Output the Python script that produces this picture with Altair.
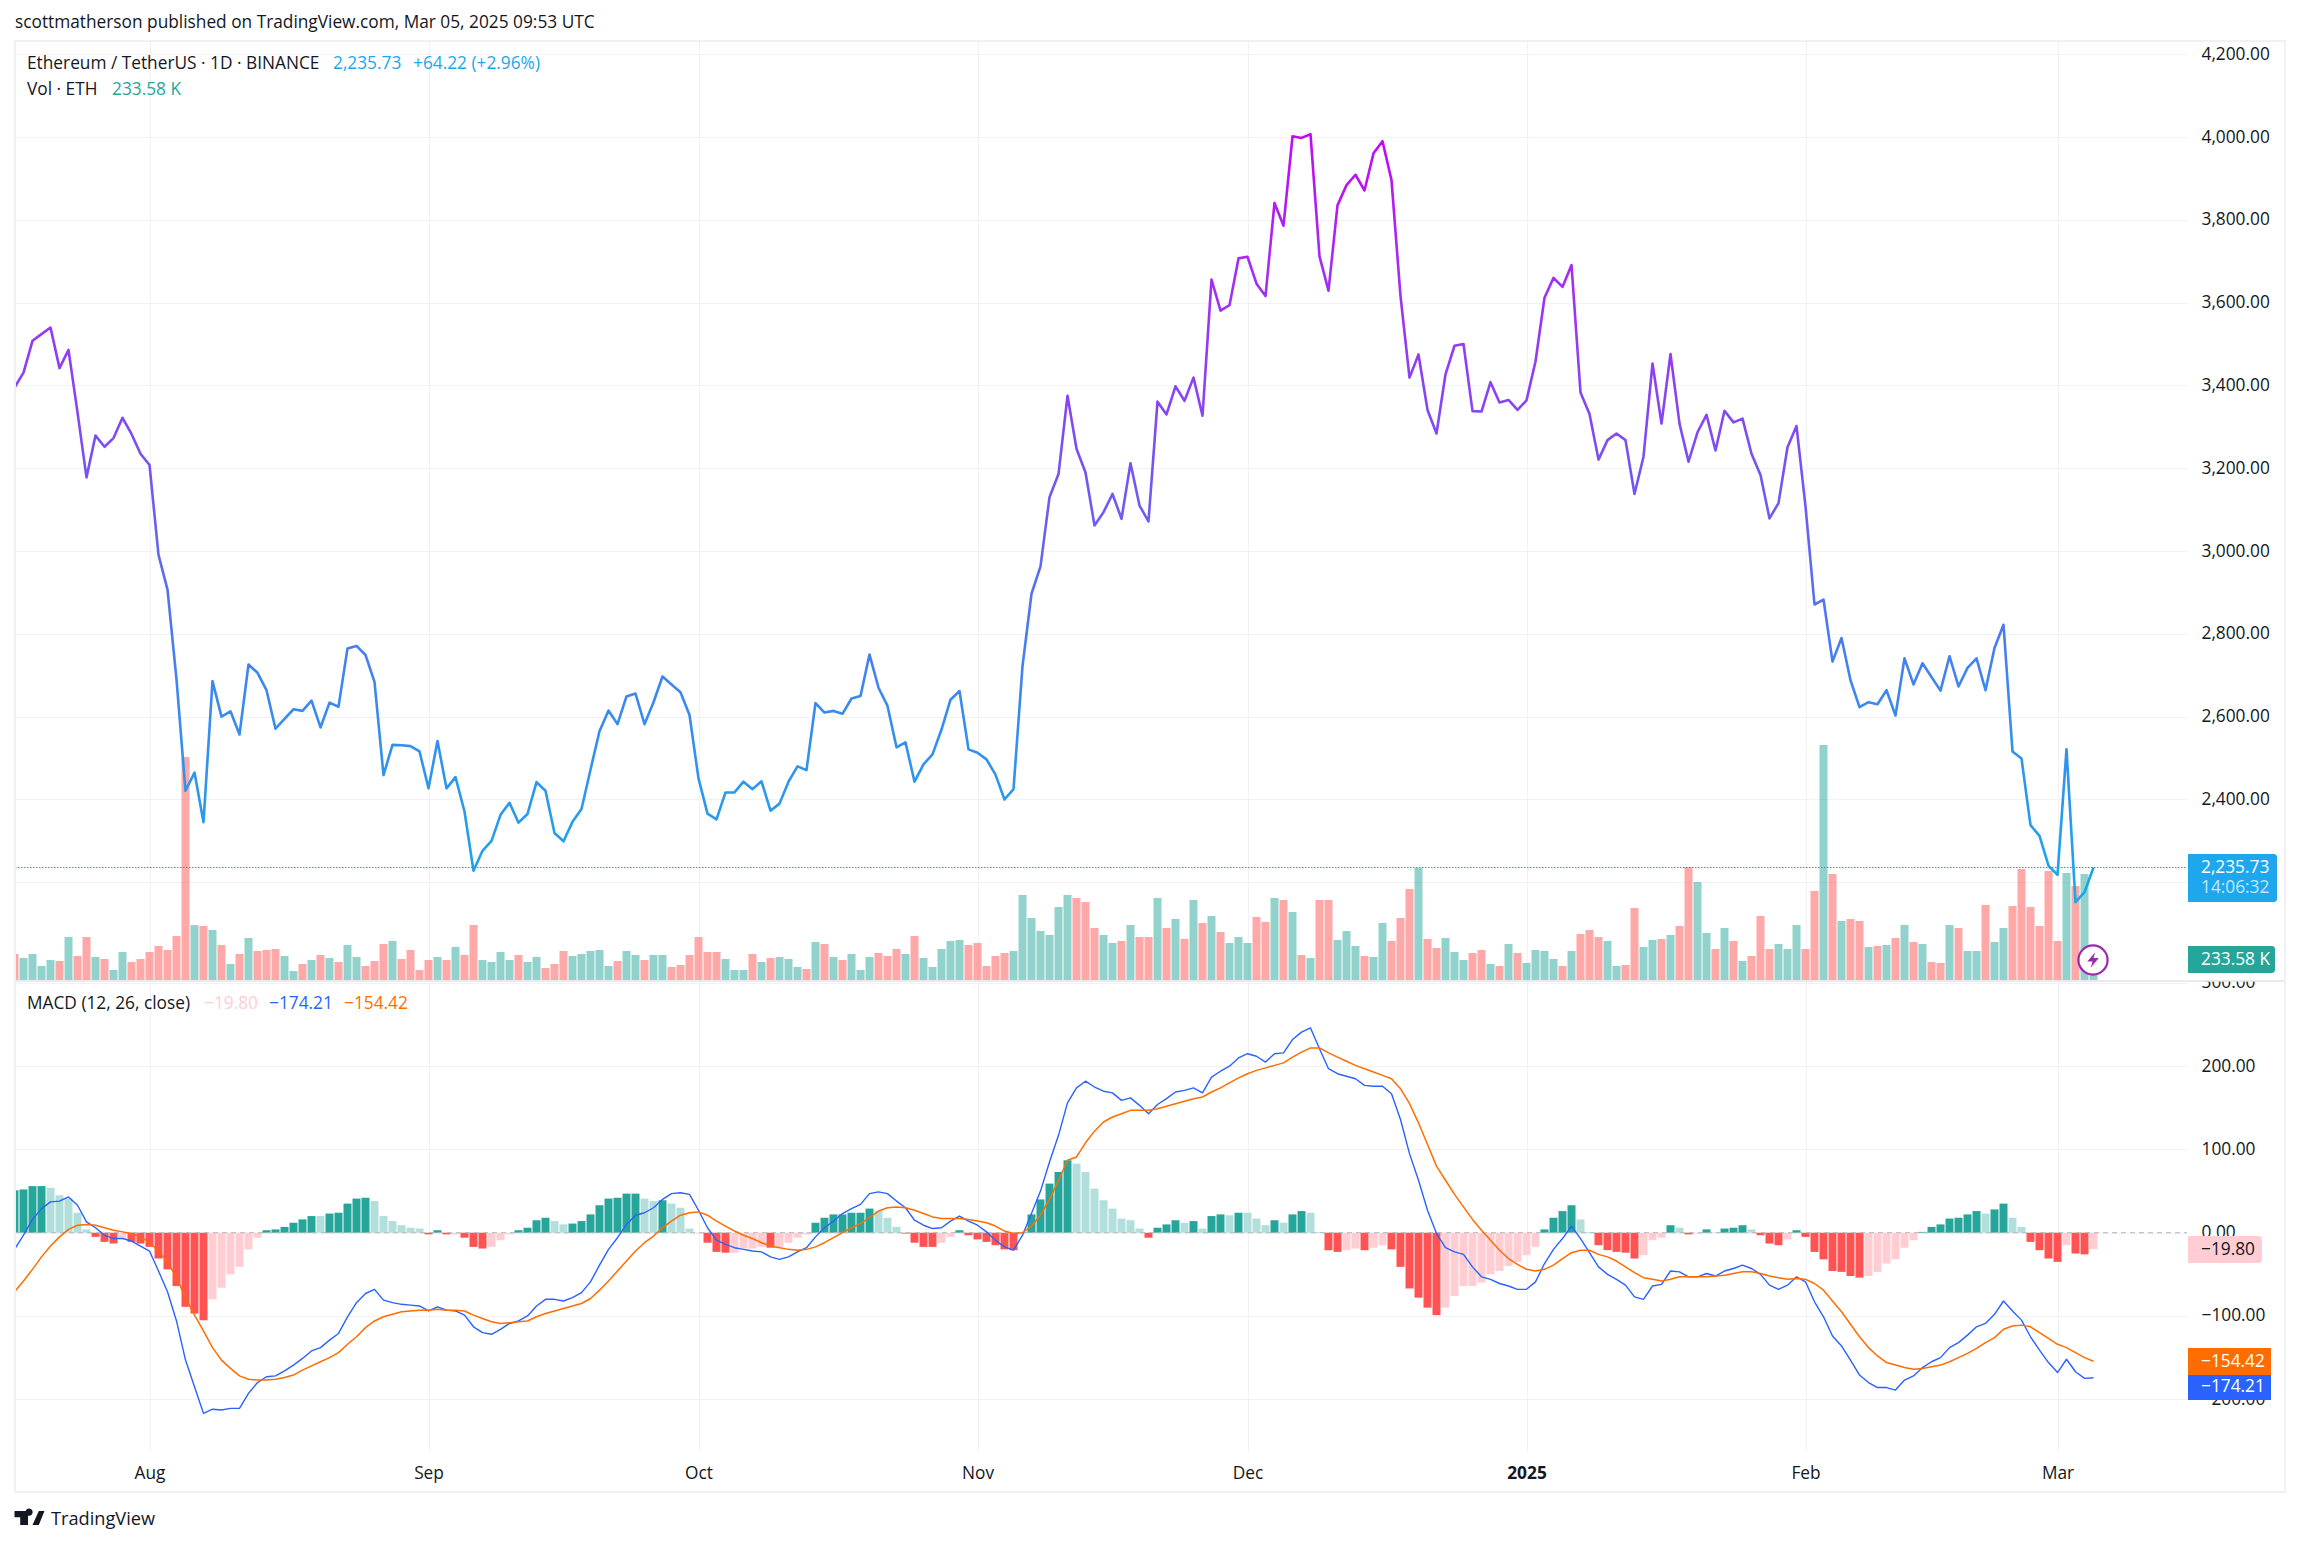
import altair as alt
import pandas as pd

PRICE = [3395,3431,3508,3524,3540,3442,3486,3335,3178,3279,
3252,3273,3322,3283,3235,3208,2991,2907,2690,2421,
2465,2345,2686,2600,2613,2557,2726,2706,2664,2571,
2595,2618,2614,2639,2574,2634,2624,2765,2771,2749,
2684,2459,2532,2531,2529,2516,2427,2541,2427,2454,
2371,2228,2276,2300,2363,2392,2344,2365,2442,2421,
2319,2299,2346,2377,2472,2565,2615,2582,2649,2656,
2582,2635,2697,2678,2659,2604,2451,2366,2352,2417,
2417,2443,2425,2444,2373,2390,2443,2480,2471,2633,
2610,2614,2607,2644,2650,2750,2670,2626,2526,2538,
2443,2485,2509,2569,2641,2662,2521,2513,2497,2460,
2400,2425,2722,2897,2963,3130,3186,3375,3247,3190,
3062,3094,3138,3078,3212,3110,3072,3361,3330,3398,
3363,3419,3327,3656,3581,3594,3707,3711,3646,3616,
3841,3786,4002,3998,4007,3712,3629,3835,3884,3909,
3871,3961,3990,3896,3616,3419,3475,3341,3284,3427,
3496,3500,3338,3337,3408,3359,3365,3341,3364,3458,
3612,3660,3638,3691,3383,3331,3221,3268,3284,3268,
3138,3228,3453,3308,3476,3308,3216,3287,3329,3243,
3339,3311,3320,3235,3184,3079,3116,3251,3302,3108,
2871,2883,2733,2790,2688,2623,2635,2630,2664,2603,
2741,2678,2729,2696,2663,2746,2673,2718,2741,2664,
2766,2822,2516,2499,2338,2312,2240,2218,2521,2152,
2176,2235.73]

VOLUME_K = [338,286,338,182,260,247,559,312,559,299,
273,130,364,234,273,364,442,390,572,2899,
715,702,650,455,208,338,546,377,390,403,
312,117,208,260,325,286,234,455,299,182,
247,468,507,273,390,130,260,299,260,429,
325,715,260,234,364,260,325,234,299,156,
208,377,312,338,377,390,182,247,377,325,
260,325,325,169,195,325,559,364,364,273,
130,130,338,234,286,299,273,169,143,494,
468,299,260,338,130,299,351,312,403,338,
572,286,169,403,507,520,455,481,182,312,
351,377,1105,806,637,585,949,1105,1066,1014,
676,585,481,507,715,559,559,1066,676,793,
533,1040,741,832,624,481,559,481,819,754,
1066,1040,884,325,286,1040,1040,520,637,442,
312,299,741,507,806,1183,1456,533,416,546,
364,260,351,390,208,182,468,351,221,390,
377,273,182,377,598,650,559,507,182,195,
936,429,520,533,585,702,1469,1274,611,403,
676,507,247,312,832,403,468,403,715,403,
1157,3055,1378,767,793,767,429,442,455,546,
715,494,468,234,221,715,676,377,377,975,
494,676,962,1443,949,702,1417,507,1391,1222,
1378,233.58]

VOLUME_DIR = list(
"RGGGGRGRRG" "RGGRRRRRRR" "GRGRGRGRRR" "GGRGRGRGGR" "RRGRRRRGRG"
"RRGGGGRGGR" "RRGGGGGRGG" "RGGRRRRRRG" "GGRGRGGGRG" "RGRGGGRRRG"
"RGGGGGRRRR" "RGGGGGGGRR" "RGGRGRRGRG" "RGRGRGGGRR" "GRGRGRRGGG"
"RGGRRRGRRG" "GGRRGRGRGG" "GGRGRRRGGR" "RGGRGRRGGR" "GRGRRRGGGR"
"RGRGRRGRGR" "GRGRRGRGGR" "GGRRRRRRGR" "GG")

MACD = [-20,-3,16,29,37,38,43,33,13,6,
-3,-7,-7,-10,-16,-22,-46,-71,-106,-153,
-185,-217,-212,-213,-211,-211,-193,-180,-173,-172,
-166,-159,-151,-142,-138,-129,-121,-101,-84,-73,
-68,-81,-84,-86,-87,-88,-94,-89,-93,-94,
-99,-113,-120,-122,-116,-109,-106,-100,-88,-80,
-80,-82,-78,-72,-59,-39,-20,-6,10,21,
24,30,40,47,48,46,27,6,-9,-14,
-18,-20,-22,-23,-29,-32,-29,-23,-18,-5,
6,14,23,29,34,47,49,47,38,30,
15,9,5,6,14,20,14,9,1,-9,
-17,-21,-3,23,50,85,117,156,174,182,
175,170,168,159,162,153,143,154,161,169,
171,174,168,187,194,200,210,215,212,205,
215,216,232,241,246,221,197,191,188,185,
177,176,176,167,136,95,63,27,-1,-18,
-23,-26,-41,-53,-56,-61,-64,-68,-68,-59,
-37,-20,-7,8,-7,-24,-41,-50,-56,-63,
-77,-80,-64,-62,-46,-47,-53,-53,-49,-52,
-46,-43,-39,-43,-50,-63,-68,-63,-53,-59,
-83,-101,-124,-136,-153,-171,-180,-186,-186,-189,
-177,-172,-162,-155,-150,-138,-132,-123,-113,-109,
-98,-82,-94,-105,-125,-141,-156,-168,-152,-167,
-175,-174.21]

SIGNAL = [-71,-58,-44,-29,-16,-5,4,9,10,9,
6,3,1,-1,-5,-12,-22,-35,-54,-78,
-99,-118,-138,-153,-163,-172,-176,-177,-177,-176,
-174,-171,-165,-160,-155,-150,-144,-134,-125,-114,
-106,-101,-98,-95,-94,-93,-93,-92,-93,-93,
-94,-99,-103,-107,-109,-108,-107,-106,-101,-97,
-94,-91,-88,-85,-79,-69,-58,-46,-34,-22,
-12,-4,6,14,21,24,25,21,14,8,
2,-3,-7,-12,-16,-18,-20,-21,-20,-17,
-12,-6,0,6,11,18,26,30,31,30,
27,23,19,17,17,17,16,14,12,8,
2,-1,0,8,21,40,63,87,91,108,
122,133,139,143,147,147,147,149,152,155,
158,161,163,169,174,180,186,191,195,198,
201,204,211,217,222,222,216,211,206,201,
197,193,189,185,173,155,132,106,80,63,
46,31,16,3,-9,-21,-31,-38,-44,-46,
-44,-39,-31,-24,-21,-21,-26,-29,-34,-41,
-48,-54,-56,-58,-56,-53,-53,-53,-53,-52,
-51,-49,-47,-47,-49,-52,-54,-56,-55,-56,
-61,-69,-82,-95,-110,-125,-138,-148,-156,-159,
-162,-164,-163,-161,-159,-155,-150,-145,-139,-132,
-126,-116,-112,-111,-113,-120,-127,-134,-138,-144,
-150,-154.42]

HIST = [51,52,56,56,54,45,41,24,4,-5,
-11,-13,-7,-11,-13,-17,-31,-44,-64,-89,
-97,-105,-80,-66,-50,-41,-20,-6,3,4,
7,12,16,20,20,23,24,35,41,42,
38,20,14,9,6,5,-2,3,-2,-2,
-6,-17,-19,-17,-9,-2,3,6,15,18,
14,10,11,14,22,33,41,42,47,47,
41,38,39,35,30,5,-1,-12,-23,-24,
-24,-19,-19,-17,-18,-17,-12,-6,-2,12,
18,22,22,24,24,29,26,18,7,-1,
-12,-17,-17,-12,-5,3,-3,-8,-11,-15,
-20,-21,0.5,22,40,59,73,87,83,73,
53,39,29,17,15,5,-6,6,10,15,
12,14,5,20,22,21,24,24,17,9,
15,12,22,26,24,1,-21,-23,-21,-19,
-21,-18,-15,-20,-41,-67,-78,-90,-99,-90,
-76,-64,-64,-60,-50,-46,-40,-35,-27,-17,
4,18,26,33,16,1,-15,-21,-23,-24,
-31,-27,-9,-6,9,6,-2,-1,4,0.5,
5,6,9,4,-3,-13,-15,-8,3,-5,
-23,-32,-46,-47,-52,-54,-52,-47,-37,-32,
-18,-9,1,7,10,17,18,22,26,23,
28,35,18,7,-11,-21,-31,-35,-15,-25,
-26,-19.80]

HIST_KIND = list(
"DDDDLLLLLR" "RRPRRRRRRR" "RRPPPPPPDD" "DDDDLDDDDD" "LLLLLLRDRP"
"RRRPPPDDDD" "LLDDDDDDDD" "LLDLLLPRRR" "PPPPRPPPPD" "DDDDDDLLLR"
"RRRPPDRRRR" "RRDDDDDDLL" "LLLLLLRDDD" "LDLDDLDLLL" "DLDDLLRRPP"
"RPPRRRRRRP" "PPPPPPPPPP" "DDDDLLRRRR" "RPPPDLRPDL" "DDDLRRRPDR"
"RRRRRRPPPP" "PPDDDDDDDL" "DDLLRRRRPR" "RP")

DATES = pd.date_range("2024-07-17", periods=232).strftime("%Y-%m-%d").tolist()
MONTH_TICKS = ["2024-08-01","2024-09-01","2024-10-01","2024-11-01","2024-12-01","2025-01-01","2025-02-01","2025-03-01"]
PRICE_TICKS = [2200,2400,2600,2800,3000,3200,3400,3600,3800,4000,4200]
MACD_TICKS = [-200,-100,0,100,200,300]

FONT = "Open Sans"
FS = 17.3
INK = "#131722"
df = pd.DataFrame(dict(date=DATES, price=PRICE, vol=VOLUME_K, vdir=VOLUME_DIR,
                       macd=MACD, signal=SIGNAL, hist=HIST, kind=HIST_KIND))
one = pd.DataFrame({"a": [0]})

PX, PY = 15, 41           # page position of the plot origin
W, H = 2172, 1410

x_scale = alt.Scale(type="utc", padding=0, domain=["2024-07-17T01:20:00Z", "2025-03-15T09:20:00Z"])
x_axis = alt.Axis(values=MONTH_TICKS, grid=True, gridColor="#f1f2f5", gridWidth=1.2, domain=False, ticks=False,
                  labelPadding=13, labelFontSize=FS, labelFont=FONT, labelColor=INK, labelOverlap=False,
                  labelFlush=False, title=None,
                  labelExpr="utcmonth(datum.value)==0 ? utcFormat(datum.value,'%Y') : utcFormat(datum.value,'%b')",
                  labelFontWeight={"condition": {"test": "utcmonth(datum.value)==0", "value": "bold"}, "value": "normal"})
X = alt.X("date:T", scale=x_scale, axis=x_axis)

price_scale = alt.Scale(domain=[826.3, 4232.1])
vol_scale = alt.Scale(domain=[-6123, 12207])
macd_scale = alt.Scale(domain=[-262.2, 1431.5])


def y_axis(values, **kw):
    return alt.Axis(values=values, orient="right", grid=True, gridColor="#f2f2f4", gridWidth=1.2, domain=False,
                    ticks=False, labelPadding=14, labelAlign="left", labelFontSize=FS, labelFont=FONT,
                    labelColor=INK, format=",.2f", title=None, labelOverlap=False, labelFlush=False, **kw)


def rx(px):
    return alt.value(px - PX)


def ry(py):
    return alt.value(py - PY)


def label(txt, px, py, color=INK, size=FS, weight="normal", align="left"):
    return alt.Chart(one).mark_text(text=txt, align=align, baseline="middle", font=FONT, fontSize=size,
                                    color=color, fontWeight=weight).encode(x=rx(px), y=ry(py))


def box(x0, x1, y0, y1, color, **kw):
    return alt.Chart(one).mark_rect(color=color, **kw).encode(x=rx(x0), x2=rx(x1), y=ry(y0), y2=ry(y1))


gradient = alt.LinearGradient(gradient="linear", x1=0, x2=0, y1=1, y2=0, stops=[
    alt.GradientStop(color="#17a9ea", offset=0),
    alt.GradientStop(color="#3e86f0", offset=0.28),
    alt.GradientStop(color="#7a50f3", offset=0.58),
    alt.GradientStop(color="#a52cf3", offset=0.82),
    alt.GradientStop(color="#c208f5", offset=1),
])

vol_bars = alt.Chart(df).mark_bar(size=8, opacity=0.5, clip=True).encode(
    x=X, y=alt.Y("vol:Q", scale=vol_scale, axis=None, stack=None),
    color=alt.Color("vdir:N", legend=None, scale=alt.Scale(domain=["G", "R"], range=["#26a69a", "#ef5350"])))
hist_bars = alt.Chart(df).mark_bar(size=8, clip=True).encode(
    x=X, y=alt.Y("hist:Q", scale=macd_scale, axis=y_axis(MACD_TICKS), stack=None),
    color=alt.Color("kind:N", legend=None, scale=alt.Scale(domain=["D", "L", "R", "P"],
                    range=["#26a69a", "#b2dfdb", "#ff5252", "#ffcdd2"])))
zero_line = alt.Chart(one).mark_rule(color="#b2b5be", strokeWidth=1, strokeDash=[5, 4]).encode(
    x=rx(15), x2=rx(2187), y=alt.Y("z:Q", scale=macd_scale, axis=None)).transform_calculate(z="0")
price_line = alt.Chart(df).mark_line(stroke=gradient, strokeWidth=2.6, strokeJoin="round", clip=True).encode(
    x=X, y=alt.Y("price:Q", scale=price_scale,
                 axis=y_axis(PRICE_TICKS, labelExpr="datum.value==2200 ? '' : format(datum.value, ',.2f')")))
last_line = alt.Chart(one).mark_rule(color="#2196d9", strokeWidth=1.2, strokeDash=[1.5, 1.5]).encode(
    x=rx(15), x2=rx(2187), y=alt.Y("z:Q", scale=price_scale, axis=None)).transform_calculate(z="2235.73")
macd_line = alt.Chart(df).mark_line(color="#2962ff", strokeWidth=1.4, strokeJoin="round", clip=True).encode(
    x=X, y=alt.Y("macd:Q", scale=macd_scale, axis=None))
signal_line = alt.Chart(df).mark_line(color="#ff6d00", strokeWidth=1.5, strokeJoin="round", clip=True).encode(
    x=X, y=alt.Y("signal:Q", scale=macd_scale, axis=None))

frame = alt.Chart(one).mark_rect(fill="transparent", stroke="#f0f1f4", strokeWidth=2).encode(
    x=rx(15), x2=rx(2285), y=ry(41), y2=ry(1492))
cover = box(2188, 2284, 966, 981, "#ffffff")
separator = box(15, 2285, 980.2, 981.8, "#e0e3eb")

LOGO = "M-1,-.47 H-.1 V.47 H-.62 V-.05 H-1 Z M.14,-.22 A.24,.24 0 1 1 .141,-.221 Z M.62,-.47 H1 L.62,.47 H.2 Z"
BOLT = "M.3,-1 L-.75,.2 H-.05 L-.3,1 L.75,-.25 H.05 Z"

logo = alt.Chart(one).mark_point(shape=LOGO, size=900, filled=True, color="#131722", opacity=1, strokeWidth=0).encode(
    x=rx(29.5), y=ry(1518))
flash_ring = alt.Chart(one).mark_point(shape="circle", size=850, filled=False, stroke="#9c27b0", strokeWidth=2.2,
                                       fill="#ffffff", fillOpacity=1, opacity=1).encode(x=rx(2093), y=ry(960))
flash_bolt = alt.Chart(one).mark_point(shape=BOLT, size=240, filled=True, color="#9c27b0", opacity=1,
                                       strokeWidth=0).encode(x=rx(2093), y=ry(960))

chart = alt.layer(
    hist_bars, vol_bars, price_line, zero_line, macd_line, signal_line, last_line,
    cover, separator, frame,
    label("scottmatherson published on TradingView.com, Mar 05, 2025 09:53 UTC", 15, 23),
    label("Ethereum / TetherUS · 1D · BINANCE", 27, 64),
    label("2,235.73", 333, 64, "#1ca7ec"),
    label("+64.22 (+2.96%)", 413, 64, "#1ca7ec"),
    label("Vol · ETH", 27, 90),
    label("233.58 K", 112, 90, "#26a69a"),
    label("MACD (12, 26, close)", 27, 1003.5),
    label("−19.80", 204, 1003.5, "#ffcdd2"),
    label("−174.21", 269, 1003.5, "#2962ff"),
    label("−154.42", 344, 1003.5, "#ff6d00"),
    flash_ring, flash_bolt,
    box(2188, 2277, 854, 902, "#1ea7ec", cornerRadiusTopRight=3, cornerRadiusBottomRight=3),
    label("2,235.73", 2201, 868, "#ffffff"),
    label("14:06:32", 2201, 888, "#c6e6f9"),
    box(2188, 2275, 946, 973, "#26a69a", cornerRadiusTopRight=3, cornerRadiusBottomRight=3),
    label("233.58 K", 2201, 960, "#ffffff"),
    box(2188, 2262, 1236, 1263, "#ffcdd2", cornerRadiusTopRight=3, cornerRadiusBottomRight=3),
    label("−19.80", 2201, 1250, INK),
    box(2188, 2271, 1348, 1375, "#ff6d00"),
    label("−154.42", 2201, 1362, "#ffffff"),
    box(2188, 2271, 1375, 1400, "#2962ff"),
    label("−174.21", 2201, 1387, "#ffffff"),
    logo,
    label("TradingView", 51, 1520, INK, 18.2),
).resolve_scale(y="independent").properties(
    width=W, height=H,
    autosize=alt.AutoSizeParams(type="none"),
    padding={"left": PX - 8, "top": PY - 8, "right": 2285 - W - (PX - 8), "bottom": 1530 - H - (PY - 8)},
    background="#ffffff",
).configure_view(stroke=None)

chart.save("out.html", embed_options={"renderer": "svg", "actions": False})
